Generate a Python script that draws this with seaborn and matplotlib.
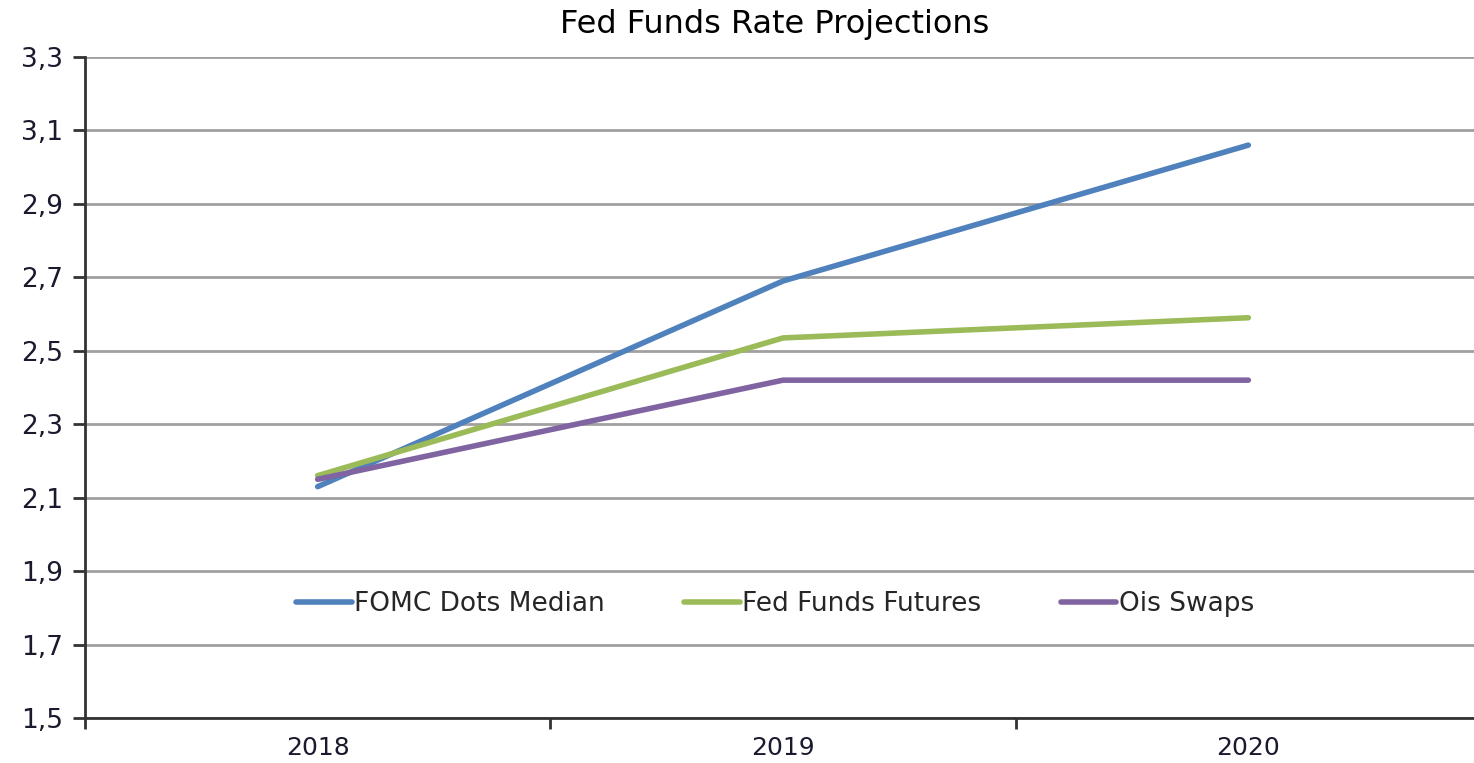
import pandas as pd
import seaborn as sns
import matplotlib.pyplot as plt
from matplotlib.ticker import FixedLocator, FuncFormatter

years = [2018, 2019, 2020]
fomc_dots = [2.13, 2.69, 3.06]
fed_futures = [2.16, 2.535, 2.59]
ois_swaps = [2.15, 2.42, 2.42]

series_names = ['FOMC Dots Median', 'Fed Funds Futures', 'Ois Swaps']
colors = ['#4F81BD', '#9BBB59', '#8064A2']

data = pd.DataFrame({
    'year': years * 3,
    'value': fomc_dots + fed_futures + ois_swaps,
    'series': [s for s in series_names for _ in years],
})

sns.set_style('white')
plt.rcParams['font.family'] = ['DejaVu Sans']

fig = plt.figure(figsize=(14.74, 7.63), dpi=100)
ax_ = fig.add_axes([85 / 1474, 1 - 718 / 763, 1396 / 1474, 661 / 763])

sns.lineplot(
    data=data,
    x='year',
    y='value',
    hue='series',
    hue_order=series_names,
    palette=colors,
    linewidth=4,
    ax=ax_,
    )

ax_.set_xlim(2017.5, 2020.5)
ax_.set_ylim(1.5, 3.3)
ax_.set_yticks([1.5 + 0.2 * i for i in range(10)])
ax_.yaxis.set_major_formatter(FuncFormatter(lambda v, p: f'{v:.1f}'.replace('.', ',')))
ax_.set_xticks(years)
ax_.set_xticklabels([str(y) for y in years])
ax_.xaxis.set_minor_locator(FixedLocator([2017.5, 2018.5, 2019.5, 2020.5]))

ax_.grid(axis='y', color='#A0A0A0', linewidth=2)
ax_.set_axisbelow(True)

ax_.spines['top'].set_visible(False)
ax_.spines['right'].set_visible(False)
for side in ['left', 'bottom']:
    ax_.spines[side].set_color('#333333')
    ax_.spines[side].set_linewidth(2)

ax_.tick_params(axis='y', which='major', direction='out', length=9, width=2,
                color='#333333', labelsize=19, labelcolor='#1a1a2e', pad=7, left=True)
ax_.tick_params(axis='x', which='major', length=0, labelsize=18, pad=13,
                labelcolor='#1a1a2e')
ax_.tick_params(axis='x', which='minor', direction='out', length=8, width=2,
                color='#333333', bottom=True)

ax_.set_xlabel('')
ax_.set_ylabel('')

ax_.legend(
    loc='center',
    bbox_to_anchor=(775 / 1474, 1 - 604 / 763),
    bbox_transform=fig.transFigure,
    ncol=3,
    frameon=False,
    fontsize=19,
    handlelength=2.1,
    handletextpad=0.1,
    columnspacing=3.0,
    )

fig.text(775 / 1474, 1 - 25 / 763, 'Fed Funds Rate Projections',
         ha='center', va='center', fontsize=23, color='black')

plt.savefig('out.png', dpi=100)
